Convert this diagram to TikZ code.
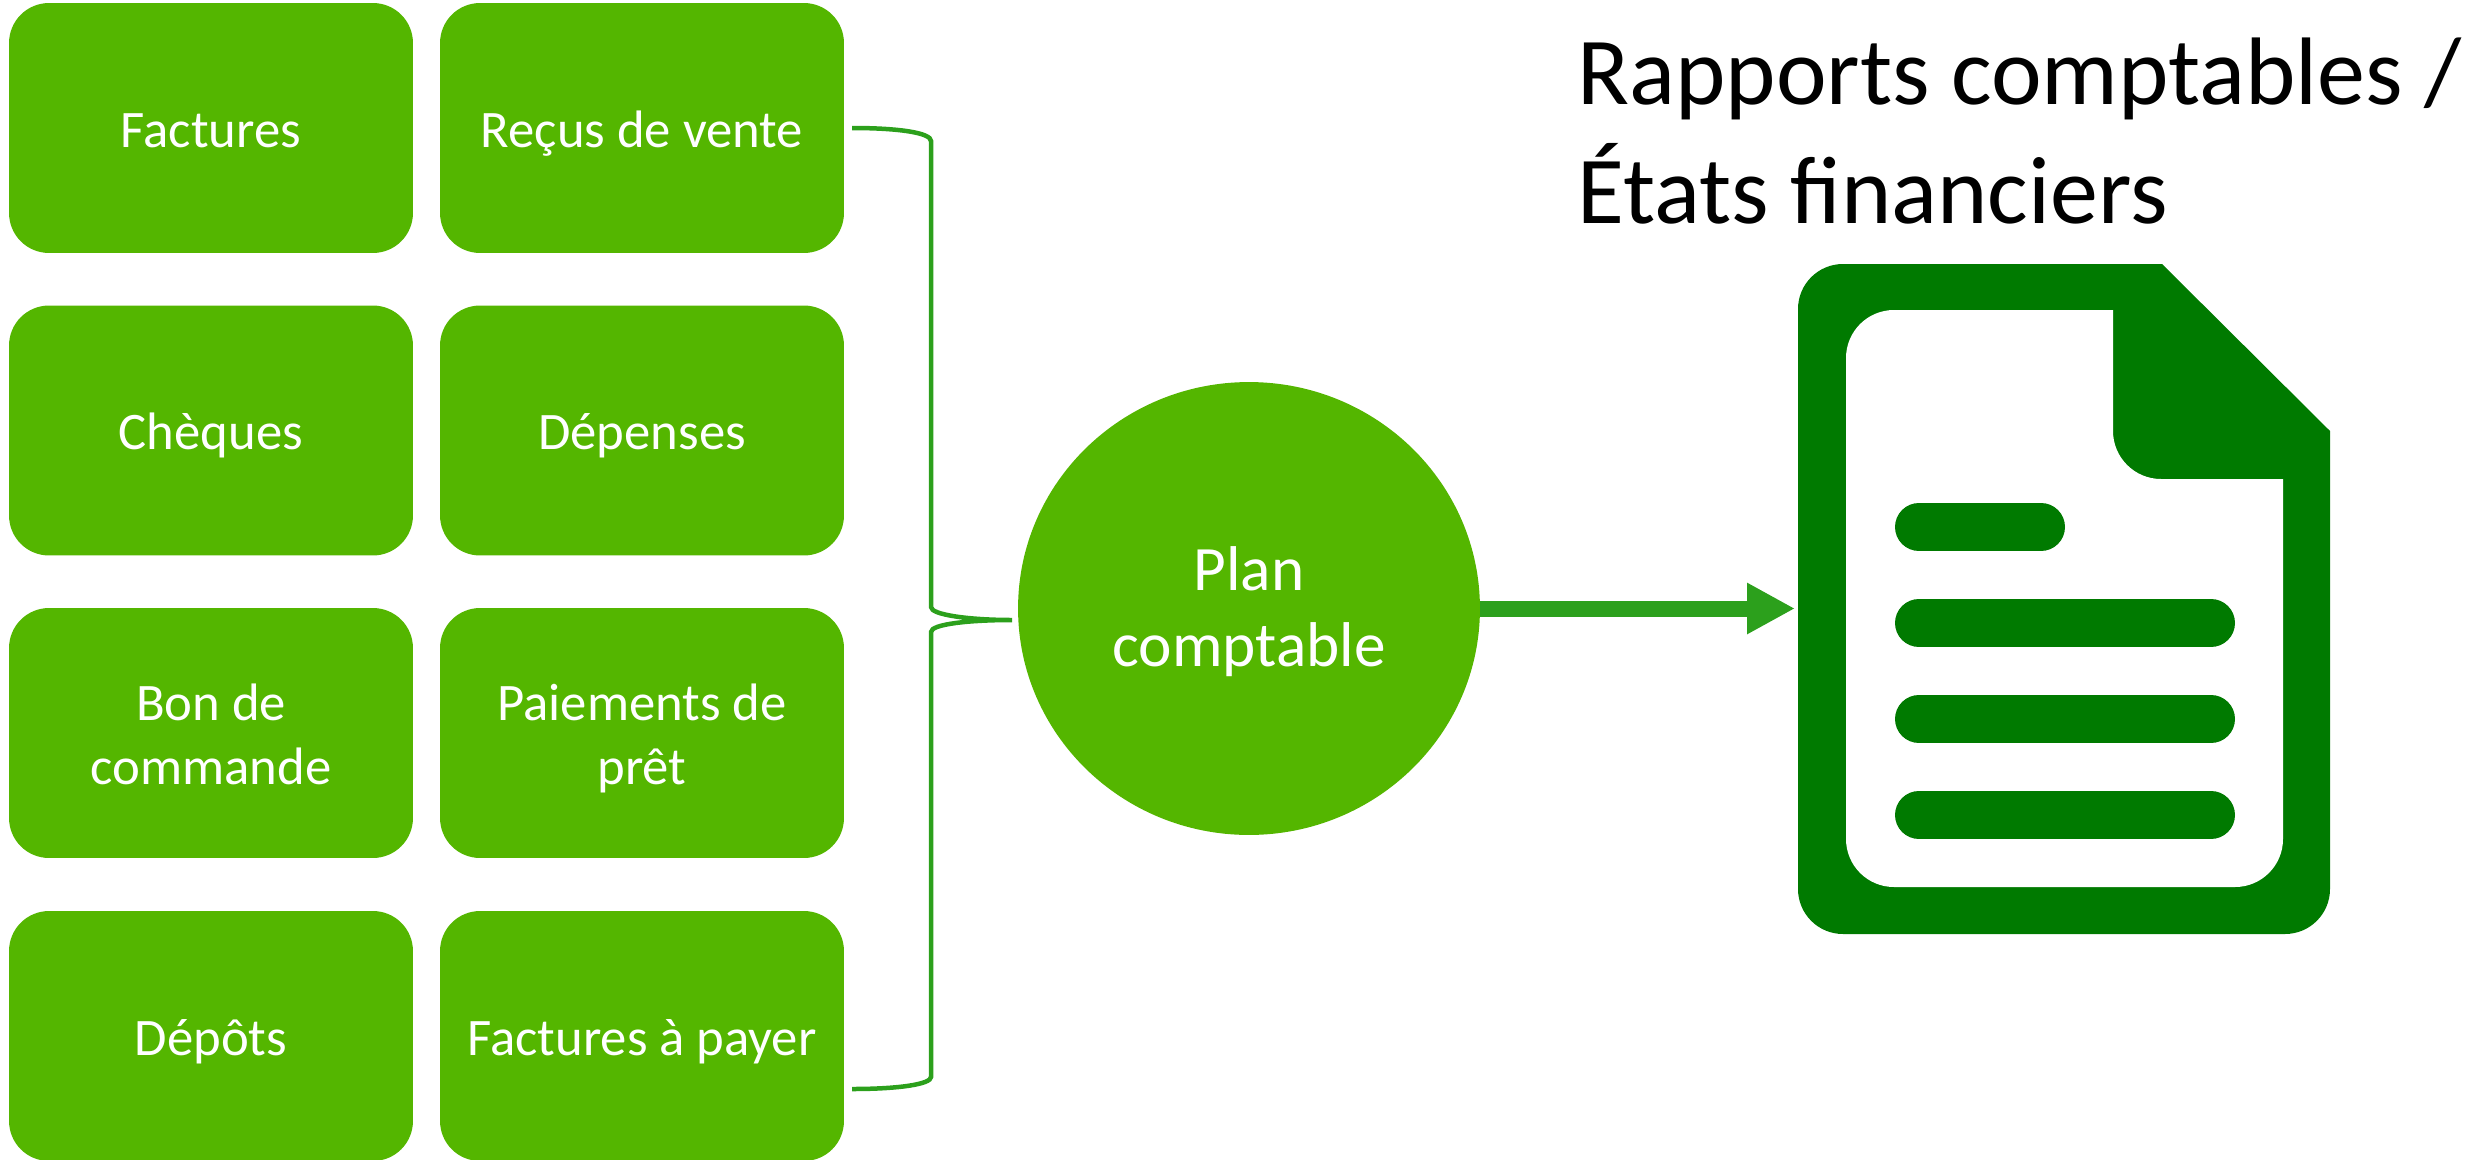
\documentclass[tikz,border=0pt]{standalone}
\usepackage{fontspec}
\setmainfont{Carlito}
\usepackage{tikz}
\usetikzlibrary{arrows.meta,shapes.geometric}

\definecolor{boxgreen}{RGB}{84,182,0}
\definecolor{linegreen}{RGB}{44,160,28}
\definecolor{docgreen}{RGB}{0,122,0}

\newcommand{\boxstrut}{\rule[-0.2cm]{0pt}{1.16cm}}
\newcommand{\boxstruttwo}{\rule[-0.2cm]{0pt}{2.44cm}}
\newcommand{\planstrut}{\rule[-0.28cm]{0pt}{2.9cm}}

\tikzset{
  sourcebox/.style={fill=boxgreen, text=white, rounded corners=0.8cm, minimum width=8.08cm, minimum height=5cm, inner sep=0pt, align=center, font=\fontsize{30}{36.3}\selectfont, execute at begin node=\boxstrut},
  sourcetwo/.style={sourcebox, execute at begin node=\boxstruttwo},
  planellipse/.style={ellipse, fill=boxgreen, text=white, minimum width=9.24cm, minimum height=9.06cm, inner sep=0pt, align=center, font=\fontsize{36}{43.7}\selectfont, execute at begin node=\planstrut},
  titletext/.style={anchor=north west, inner sep=0pt, align=left, font=\fontsize{54.6}{67.5}\selectfont},
  braceline/.style={draw=linegreen, line width=0.09cm},
  flowarrow/.style={draw=linegreen, line width=0.32cm, -{Triangle[length=0.96cm,width=0.96cm]}},
  docline/.style={draw=docgreen, line width=0.96cm, line cap=round}
}

\begin{document}
\begin{tikzpicture}[x=0.02cm, y=-0.02cm]

   \useasboundingbox (0,0) rectangle (2476,1160);

   \node[sourcebox] (factures) at (211,128) {Factures};
   \node[sourcebox] (recus) at (642,128) {Reçus de vente};
   \node[sourcebox] (cheques) at (211,430.5) {Chèques};
   \node[sourcebox] (depenses) at (642,430.5) {Dépenses};
   \node[sourcetwo] (bon) at (211,733) {Bon de\\commande};
   \node[sourcetwo] (paiements) at (642,733) {Paiements de\\prêt};
   \node[sourcebox] (depots) at (211,1036) {Dépôts};
   \node[sourcebox] (payer) at (642,1036) {Factures à payer};

   \node[planellipse] (plan) at (1249,608.5) {Plan\\comptable};

   \node[titletext] (rapports) at (1577,38) {Rapports comptables /\\États financiers};

   % brace
   \coordinate (bracetop) at (852,128);
   \coordinate (bracetip) at (1012,620);
   \coordinate (bracebottom) at (852,1089);
   \draw[braceline] (bracetop) .. controls (900,128) and (931,133) .. (931,141) -- (931,607)
      .. controls (931,615) and (970,620) .. (bracetip)
      .. controls (970,620) and (931,624) .. (931,632) -- (931,1077)
      .. controls (931,1084) and (900,1089) .. (bracebottom);

   % document icon
   \filldraw[fill=docgreen, draw=none, rounded corners=0.9cm] (1798,600) -- (1798,264) [sharp corners] -- (2162,264) -- (2330,431)
      [rounded corners=0.9cm] -- (2330,934) -- (1798,934) -- cycle;
   \filldraw[fill=white, draw=none, rounded corners=0.96cm] (1846,600) -- (1846,310) [sharp corners] -- (2113,310)
      [rounded corners=0.96cm] -- (2113,479) [sharp corners] -- (2283,479)
      [rounded corners=0.96cm] -- (2283,887) -- (1846,887) -- cycle;
   \draw[docline] (1919,527) -- (2041,527);
   \draw[docline] (1919,623) -- (2211,623);
   \draw[docline] (1919,719) -- (2211,719);
   \draw[docline] (1919,815) -- (2211,815);

   \coordinate (docin) at (1795,608.5);
   \draw[flowarrow] (plan) -- (docin);

\end{tikzpicture}
\end{document}
